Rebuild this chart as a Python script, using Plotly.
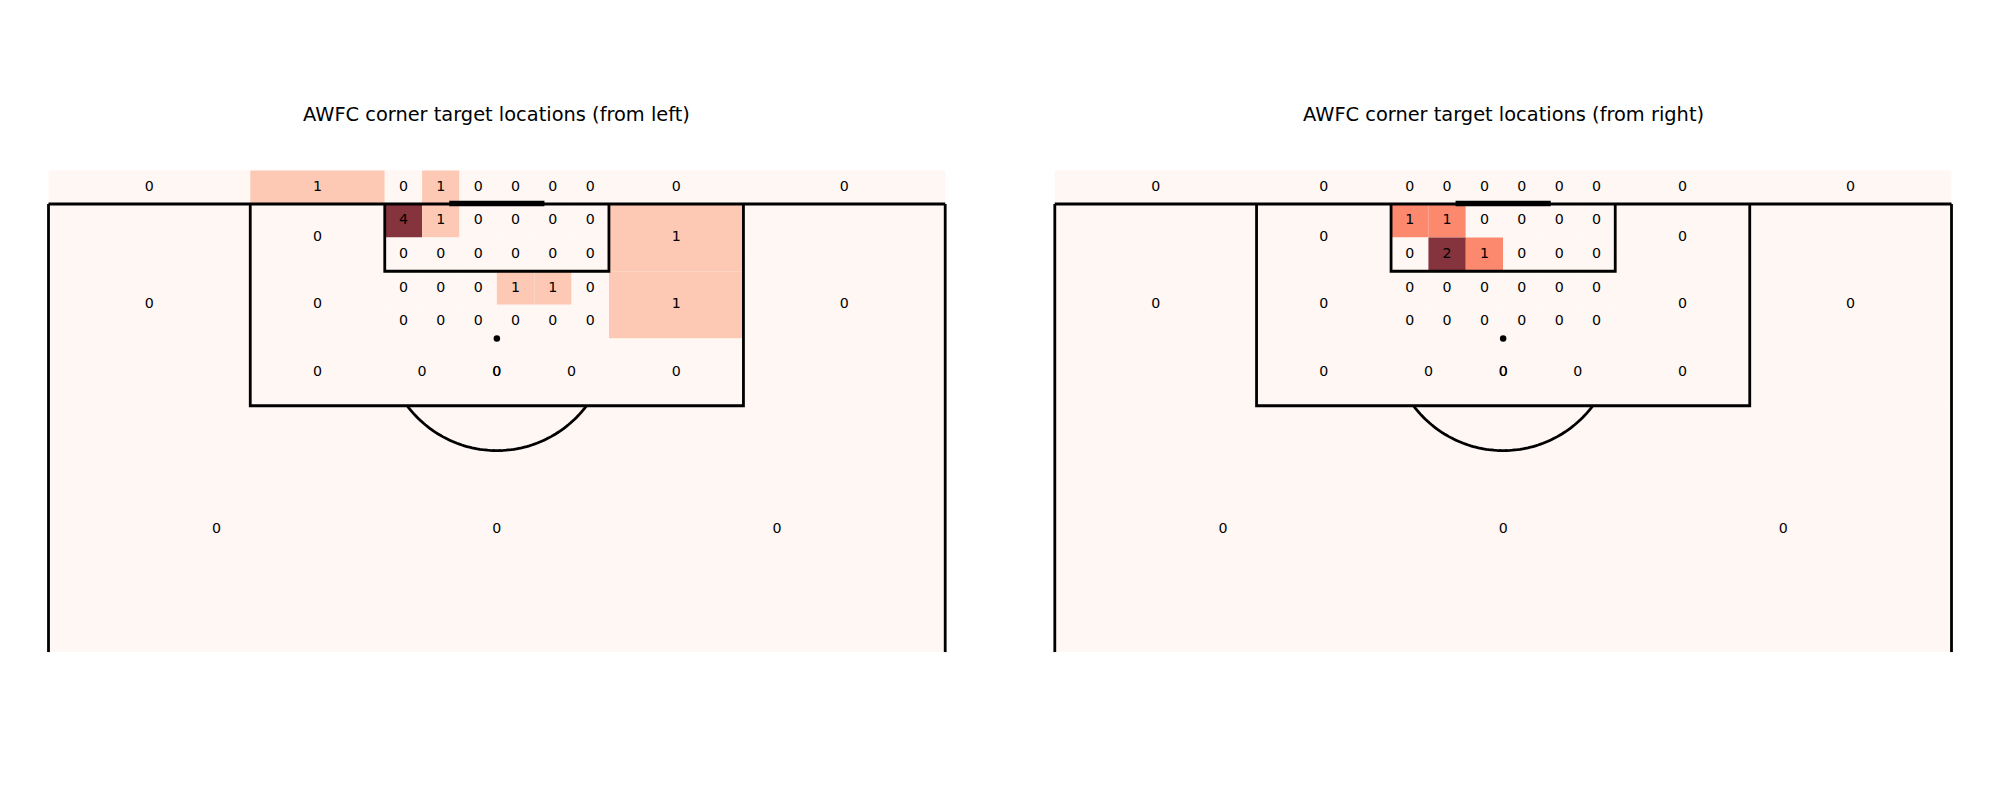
import numpy as np
import plotly.graph_objects as go

# ---------------- data ----------------
titles = ["AWFC corner target locations (from left)",
          "AWFC corner target locations (from right)"]

# Zones outside the central six-yard grid: x0, x1 (across pitch), y0, y1 (along pitch)
zone_x0 = [0, 18, 30, 100/3, 110/3, 40, 130/3, 140/3, 50, 62,
           0, 18, 18, 18, 50, 50, 50, 62,
           30, 30, 110/3, 130/3,
           0, 30, 50]
zone_x1 = [18, 30, 100/3, 110/3, 40, 130/3, 140/3, 50, 62, 80,
           18, 30, 30, 30, 62, 62, 62, 80,
           50, 110/3, 130/3, 50,
           30, 50, 80]
zone_y0 = [120, 120, 120, 120, 120, 120, 120, 120, 120, 120,
           102, 114, 108, 102, 114, 108, 102, 102,
           102, 102, 102, 102,
           80, 80, 80]
zone_y1 = [123, 123, 123, 123, 123, 123, 123, 123, 123, 123,
           120, 120, 114, 108, 120, 114, 108, 120,
           108, 108, 108, 108,
           102, 102, 102]
zone_counts_left = [0, 1, 0, 1, 0, 0, 0, 0, 0, 0,
                    0, 0, 0, 0, 1, 1, 0, 0,
                    0, 0, 0, 0,
                    0, 0, 0]
zone_counts_right = [0, 0, 0, 0, 0, 0, 0, 0, 0, 0,
                     0, 0, 0, 0, 0, 0, 0, 0,
                     0, 0, 0, 0,
                     0, 0, 0]

# Central grid (between the six-yard box posts, from goal line to penalty spot)
grid_col_edges = [30, 100/3, 110/3, 40, 130/3, 140/3, 50]
grid_row_edges = [120, 117, 114, 111, 108]
grid_counts_left = [[4, 1, 0, 0, 0, 0],
                    [0, 0, 0, 0, 0, 0],
                    [0, 0, 0, 1, 1, 0],
                    [0, 0, 0, 0, 0, 0]]
grid_counts_right = [[1, 1, 0, 0, 0, 0],
                     [0, 2, 1, 0, 0, 0],
                     [0, 0, 0, 0, 0, 0],
                     [0, 0, 0, 0, 0, 0]]

# Pitch geometry (StatsBomb 120 x 80, vertical, attacking upward)
PITCH_W = 80
GOAL_Y = 120
VIEW_TOP = 123
VIEW_BOTTOM = 80
BOX_X = (18, 62)
BOX_DEPTH = 18
SIX_X = (30, 50)
SIX_DEPTH = 6
GOAL_X = (36, 44)
SPOT_DIST = 12
ARC_R = 10

# ---------------- helpers ----------------
REDS = ['#fff5f0', '#fee0d2', '#fcbba1', '#fc9272', '#fb6a4a',
        '#ef3b2c', '#cb181d', '#a50f15', '#67000d']


def hex_rgb(h):
    h = h.lstrip('#')
    return np.array([int(h[i:i + 2], 16) for i in (0, 2, 4)], dtype=float)


def reds(v, alpha=0.8):
    v = min(max(v, 0.0), 1.0) * 8
    i = min(int(v), 7)
    f = v - i
    c = hex_rgb(REDS[i]) * (1 - f) + hex_rgb(REDS[i + 1]) * f
    c = c * alpha + 255 * (1 - alpha)
    return 'rgb(%d,%d,%d)' % tuple(np.round(c).astype(int))


def build_zones(zone_counts, grid_counts):
    x0, x1, y0, y1, cnt = list(zone_x0), list(zone_x1), list(zone_y0), list(zone_y1), list(zone_counts)
    for r in range(len(grid_row_edges) - 1):
        for c in range(len(grid_col_edges) - 1):
            x0.append(grid_col_edges[c]); x1.append(grid_col_edges[c + 1])
            y0.append(grid_row_edges[r + 1]); y1.append(grid_row_edges[r])
            cnt.append(grid_counts[r][c])
    return x0, x1, y0, y1, cnt


# ---------------- layout geometry (pixels) ----------------
W, H = 2000, 800
panel_left_px = [48.5, 1054.8]
panel_right_px = [945.2, 1951.5]
goal_line_px = 204.0
title_y_px = 114.5
XPAD = 0.6

fig = go.Figure()
shapes = []
annotations = []
LINE_W = 2.8
GOAL_W = 5.5
LINE_C = 'black'

for p in range(2):
    xa = 'x' if p == 0 else 'x2'
    ya = 'y' if p == 0 else 'y2'
    s = (panel_right_px[p] - panel_left_px[p]) / PITCH_W
    dom_x = [(panel_left_px[p] - XPAD * s) / W, (panel_right_px[p] + XPAD * s) / W]
    top_px = goal_line_px - (VIEW_TOP - GOAL_Y) * s
    bot_px = goal_line_px + (GOAL_Y - VIEW_BOTTOM) * s
    dom_y = [1 - bot_px / H, 1 - top_px / H]
    axis_x = dict(domain=dom_x, range=[-XPAD, PITCH_W + XPAD], visible=False, fixedrange=True)
    axis_y = dict(domain=dom_y, range=[VIEW_BOTTOM, VIEW_TOP], visible=False, fixedrange=True)
    if p == 0:
        fig.update_layout(xaxis=axis_x, yaxis=dict(axis_y, anchor='x'))
    else:
        fig.update_layout(xaxis2=dict(axis_x, anchor='y2'), yaxis2=dict(axis_y, anchor='x2'))

    if p == 0:
        x0, x1, y0, y1, cnt = build_zones(zone_counts_left, grid_counts_left)
    else:
        x0, x1, y0, y1, cnt = build_zones(zone_counts_right, grid_counts_right)
    vmax = max(cnt) if max(cnt) > 0 else 1
    for a, b, c, d, v in zip(x0, x1, y0, y1, cnt):
        shapes.append(dict(type='rect', xref=xa, yref=ya, x0=a, x1=b, y0=c, y1=d,
                           fillcolor=reds(v / vmax), line=dict(width=0), layer='below'))
    fig.add_trace(go.Scatter(
        x=[(a + b) / 2 for a, b in zip(x0, x1)],
        y=[(c + d) / 2 for c, d in zip(y0, y1)],
        text=[str(v) for v in cnt], mode='text',
        textfont=dict(family='DejaVu Sans', size=14.2, color='black'),
        xaxis=xa, yaxis=ya, hoverinfo='skip', showlegend=False, cliponaxis=False))

    def line(xa_, ya_, xs, ys, width=LINE_W):
        return dict(type='line', xref=xa_, yref=ya_, x0=xs[0], x1=xs[1], y0=ys[0], y1=ys[1],
                    line=dict(color=LINE_C, width=width), layer='above')

    # side lines
    shapes.append(line(xa, ya, (0, 0), (VIEW_BOTTOM, GOAL_Y)))
    shapes.append(line(xa, ya, (PITCH_W, PITCH_W), (VIEW_BOTTOM, GOAL_Y)))
    # goal line
    shapes.append(line(xa, ya, (0, PITCH_W), (GOAL_Y, GOAL_Y)))
    # penalty box
    by = GOAL_Y - BOX_DEPTH
    shapes.append(dict(type='path', xref=xa, yref=ya,
                       path=f'M {BOX_X[0]},{GOAL_Y} L {BOX_X[0]},{by} L {BOX_X[1]},{by} L {BOX_X[1]},{GOAL_Y}',
                       line=dict(color=LINE_C, width=LINE_W), layer='above'))
    # six-yard box
    sy = GOAL_Y - SIX_DEPTH
    shapes.append(dict(type='path', xref=xa, yref=ya,
                       path=f'M {SIX_X[0]},{GOAL_Y} L {SIX_X[0]},{sy} L {SIX_X[1]},{sy} L {SIX_X[1]},{GOAL_Y}',
                       line=dict(color=LINE_C, width=LINE_W), layer='above'))
    # goal (with projecting caps like matplotlib)
    cap = GOAL_W / 2 / s
    shapes.append(line(xa, ya, (GOAL_X[0] - cap, GOAL_X[1] + cap),
                       (GOAL_Y + 0.05, GOAL_Y + 0.05), width=GOAL_W))
    # arc
    cx, cy = PITCH_W / 2, GOAL_Y - SPOT_DIST
    t0 = np.arcsin((by - cy) / ARC_R)  # negative angle
    ts = np.linspace(np.pi - t0, 2 * np.pi + t0, 80)
    ax = cx + ARC_R * np.cos(ts)
    ay = cy + ARC_R * np.sin(ts)
    path = 'M ' + ' L '.join(f'{u:.4f},{w:.4f}' for u, w in zip(ax, ay))
    shapes.append(dict(type='path', xref=xa, yref=ya, path=path,
                       line=dict(color=LINE_C, width=LINE_W), layer='above'))
    # penalty spot
    fig.add_trace(go.Scatter(x=[cx], y=[cy], mode='markers',
                             marker=dict(color='black', size=6.5, line=dict(width=0)),
                             xaxis=xa, yaxis=ya, hoverinfo='skip', showlegend=False))

    annotations.append(dict(text=titles[p], xref='paper', yref='paper',
                            x=(panel_left_px[p] + panel_right_px[p]) / 2 / W,
                            y=1 - title_y_px / H, xanchor='center', yanchor='middle',
                            showarrow=False,
                            font=dict(family='DejaVu Sans', size=19.4, color='black')))

fig.update_layout(width=W, height=H, margin=dict(l=0, r=0, t=0, b=0),
                  paper_bgcolor='white', plot_bgcolor='white',
                  shapes=shapes, annotations=annotations, showlegend=False)

fig.write_html('out.html', config={'displayModeBar': False})
